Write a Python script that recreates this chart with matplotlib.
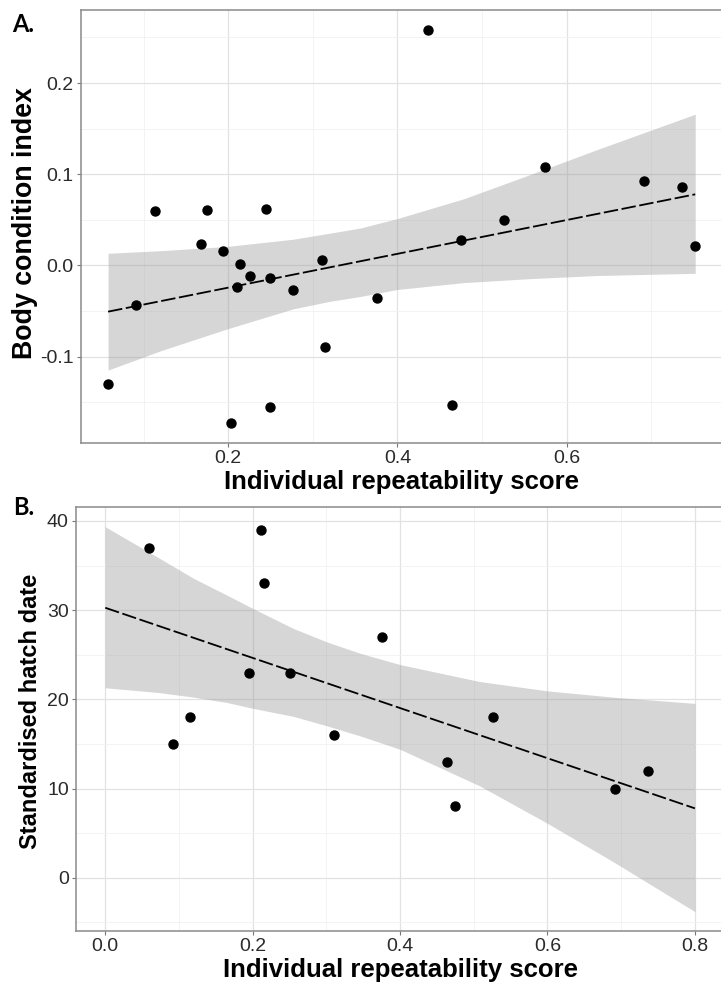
import matplotlib
matplotlib.use("Agg")
import matplotlib.pyplot as plt
from matplotlib.ticker import FixedLocator

plt.rcParams['font.family'] = ['Liberation Sans', 'DejaVu Sans']

# Panel A: body condition vs repeatability
rep_a = [0.058, 0.091, 0.113, 0.168, 0.175, 0.194, 0.214, 0.203, 0.210, 0.226,
         0.245, 0.249, 0.249, 0.277, 0.311, 0.314, 0.376, 0.436, 0.465, 0.475,
         0.526, 0.574, 0.692, 0.736, 0.752]
bci = [-0.130, -0.043, 0.060, 0.023, 0.061, 0.016, 0.002, -0.173, -0.024, -0.011,
       0.062, -0.014, -0.155, -0.027, 0.006, -0.089, -0.036, 0.258, -0.153, 0.028,
       0.050, 0.108, 0.093, 0.086, 0.021]

# fitted line ends and 95% band
line_a_x = [0.058, 0.752]
line_a_y = [-0.0506, 0.078]
band_a_x = [0.058, 0.12, 0.198, 0.277, 0.32, 0.356, 0.399, 0.478, 0.557, 0.636, 0.752]
band_a_hi = [0.0134, 0.0162, 0.0208, 0.0288, 0.0354, 0.041, 0.0512, 0.073, 0.0997, 0.127, 0.1658]
band_a_lo = [-0.1146, -0.0935, -0.0697, -0.0475, -0.0393, -0.034, -0.0264, -0.0188, -0.0144, -0.011, -0.0086]

# Panel B: hatch date vs repeatability
rep_b = [0.059, 0.092, 0.115, 0.195, 0.211, 0.216, 0.250, 0.311, 0.376, 0.463,
         0.475, 0.526, 0.691, 0.736]
hatch = [37, 15, 18, 23, 39, 33, 23, 16, 27, 13, 8, 18, 10, 12]

line_b_x = [0.0, 0.8]
line_b_y = [30.27, 7.78]
band_b_x = [0.0, 0.074, 0.12, 0.165, 0.2, 0.255, 0.30, 0.346, 0.40, 0.508, 0.60, 0.689, 0.80]
band_b_hi = [39.35, 35.8, 33.56, 31.69, 30.2, 27.96, 26.46, 25.16, 23.9, 22.0, 20.95, 20.25, 19.55]
band_b_lo = [21.3, 20.75, 20.25, 19.65, 19.0, 18.1, 17.05, 15.9, 14.4, 10.3, 6.1, 1.8, -3.8]

fig = plt.figure(figsize=(7.21, 9.92), dpi=100)
axA = fig.add_axes([0.1118, 0.5534, 0.8906, 0.4365])
axB = fig.add_axes([0.1051, 0.0615, 0.8996, 0.4277])


def style(ax, major_x, minor_x, major_y, minor_y):
    ax.xaxis.set_major_locator(FixedLocator(major_x))
    ax.xaxis.set_minor_locator(FixedLocator(minor_x))
    ax.yaxis.set_major_locator(FixedLocator(major_y))
    ax.yaxis.set_minor_locator(FixedLocator(minor_y))
    ax.grid(which='major', color='#e2e2e2', lw=0.9)
    ax.grid(which='minor', color='#f1f1f1', lw=0.6)
    ax.set_axisbelow(True)
    for s in ax.spines.values():
        s.set_color('#8a8a8a')
        s.set_linewidth(1.1)
    ax.tick_params(which='major', length=3, width=0.8, color='#777777',
                   labelsize=14, labelcolor='#2a2a2a', pad=2)
    ax.tick_params(which='minor', length=0)


# Panel A
axA.fill_between(band_a_x, band_a_lo, band_a_hi, color='#999999', alpha=0.4, lw=0)
axA.plot(line_a_x, line_a_y, color='black', lw=1.3, ls=(0, (8, 2)))
axA.scatter(rep_a, bci, s=42, color='black', zorder=3)
axA.set_xlim(0.0255, 0.7845)
axA.set_ylim(-0.1946, 0.280)
style(axA, [0.2, 0.4, 0.6], [0.1, 0.3, 0.5, 0.7],
      [-0.1, 0.0, 0.1, 0.2], [-0.15, -0.05, 0.05, 0.15, 0.25])
axA.set_yticklabels(['-0.1', '0.0', '0.1', '0.2'])
axA.set_xticklabels(['0.2', '0.4', '0.6'])
axA.set_xlabel('Individual repeatability score', fontsize=18.5, fontweight='bold', labelpad=2)
axA.set_ylabel('Body condition index', fontsize=19.3, fontweight='bold')
axA.yaxis.set_label_coords(-0.066, 0.507)

# Panel B
axB.fill_between(band_b_x, band_b_lo, band_b_hi, color='#999999', alpha=0.4, lw=0)
axB.plot(line_b_x, line_b_y, color='black', lw=1.3, ls=(0, (8, 2)))
axB.scatter(rep_b, hatch, s=42, color='black', zorder=3)
axB.set_xlim(-0.04, 0.84)
axB.set_ylim(-5.97, 41.6)
style(axB, [0.0, 0.2, 0.4, 0.6, 0.8], [0.1, 0.3, 0.5, 0.7],
      [0, 10, 20, 30, 40], [-5, 5, 15, 25, 35])
axB.set_xticklabels(['0.0', '0.2', '0.4', '0.6', '0.8'])
axB.set_xlabel('Individual repeatability score', fontsize=18.5, fontweight='bold', labelpad=2)
axB.set_ylabel('Standardised hatch date', fontsize=17, fontweight='bold')
axB.yaxis.set_label_coords(-0.052, 0.518)

fig.text(12 / 721, 1 - 13 / 992, 'A.', fontsize=17, fontweight='bold',
         family=['Lato', 'DejaVu Sans'], va='top')
fig.text(13 / 721, 1 - 496 / 992, 'B.', fontsize=17, fontweight='bold',
         family=['Lato', 'DejaVu Sans'], va='top')

fig.savefig('out.png', dpi=100)
